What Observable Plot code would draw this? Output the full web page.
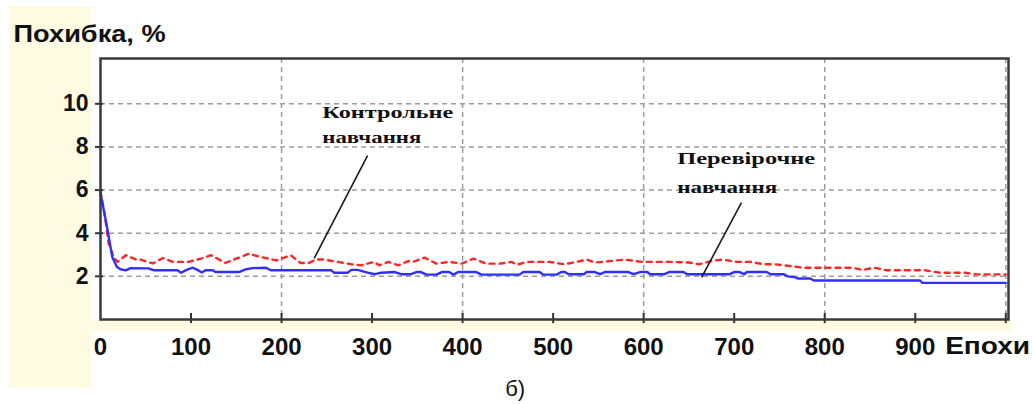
<!DOCTYPE html>
<html>
<head>
<meta charset="utf-8">
<script src="https://cdn.jsdelivr.net/npm/d3@7"></script>
<script src="https://cdn.jsdelivr.net/npm/@observablehq/plot@0.6"></script>
<style>
  html, body { margin: 0; padding: 0; background: #ffffff; }
  #wrap { position: relative; width: 1032px; height: 404px; overflow: hidden; }
  .pale { position: absolute; background: #fffbe3; }
  #chart { position: absolute; left: 0; top: 0; }
</style>
</head>
<body>
<div id="wrap">
  <div class="pale" style="left:9px;top:6px;width:82px;height:382px;"></div>
  <div class="pale" style="left:91px;top:320px;width:920px;height:11px;"></div>
  <div id="chart"></div>
</div>
<script>
// ---- data ----
const blueEpochs = [0,4,8,13,18,22,28,33,53,59,85,89,95,102,107,112,116,124,127,153,161,168,183,188,255,258,273,277,284,295,303,310,325,332,343,349,354,360,371,377,385,390,395,415,421,463,467,485,489,504,509,513,517,534,537,546,552,557,583,589,596,604,607,623,628,644,648,695,700,706,711,714,736,740,755,759,766,770,784,788,905,908,1000];
const blueValues = [5.85,5.0,4.1,2.9,2.45,2.33,2.28,2.38,2.37,2.28,2.28,2.17,2.3,2.4,2.3,2.18,2.28,2.28,2.2,2.2,2.33,2.38,2.4,2.28,2.28,2.17,2.17,2.3,2.3,2.17,2.1,2.17,2.2,2.1,2.1,2.2,2.2,2.08,2.08,2.2,2.2,2.08,2.2,2.2,2.08,2.08,2.2,2.2,2.08,2.08,2.2,2.2,2.1,2.1,2.2,2.2,2.1,2.2,2.2,2.1,2.2,2.2,2.1,2.1,2.2,2.2,2.1,2.1,2.2,2.2,2.1,2.2,2.2,2.1,2.1,2.0,1.97,1.9,1.9,1.81,1.81,1.7,1.7];

const redEpochs = [0,5,9,15,19,28,39,44,52,58,69,80,97,111,122,138,150,164,174,194,203,210,221,230,238,247,262,277,288,302,308,318,329,340,345,358,371,385,399,412,426,441,454,460,471,496,512,526,537,546,561,579,598,631,650,661,675,687,703,718,733,745,761,777,830,842,855,869,911,927,955,967,1000];
const redValues = [5.95,4.76,3.53,2.84,2.67,2.98,2.78,2.78,2.67,2.6,2.85,2.67,2.67,2.82,2.98,2.62,2.82,3.05,2.93,2.74,2.87,2.98,2.62,2.62,2.78,2.78,2.67,2.56,2.51,2.67,2.51,2.67,2.51,2.71,2.67,2.87,2.59,2.67,2.59,2.82,2.59,2.59,2.67,2.54,2.67,2.67,2.56,2.67,2.78,2.64,2.7,2.78,2.67,2.67,2.64,2.56,2.71,2.78,2.67,2.67,2.56,2.56,2.48,2.4,2.4,2.3,2.4,2.28,2.28,2.17,2.17,2.09,2.09];

const xTickLabels = [0,100,200,300,400,500,600,700,800,900];
const xTickMarks = [100,200,300,400,500,600,700,800,900,1000];
const xGridLines = [200,400,600,800,1000];
const yTicks = [2,4,6,8,10];

const yTitle = "Похибка, %";
const xTitle = "Епохи";
const caption = "б)";

const annText = ["Контрольне", "навчання", "Перевірочне", "навчання"];
const annX = [245, 245, 637, 637];
const annY = [9.92, 8.72, 7.79, 6.44];
const annLen = [131, 99, 138, 100];

const leadX1 = [295, 708];
const leadY1 = [7.6, 5.42];
const leadX2 = [236, 664];
const leadY2 = [2.83, 1.95];

// ---- tables ----
const blue = blueEpochs.map((e, i) => ({e, v: blueValues[i]}));
const red = redEpochs.map((e, i) => ({e, v: redValues[i]}));
const ann = annText.map((t, i) => ({t, x: annX[i], y: annY[i], len: annLen[i]}));
const leaders = leadX1.map((x, i) => ({x1: x, y1: leadY1[i], x2: leadX2[i], y2: leadY2[i]}));

const sans = "'Liberation Sans', Arial, Helvetica, sans-serif";
const serif = "'Liberation Serif', 'Times New Roman', serif";
const gridStyle = {stroke: "#9c9c9c", strokeOpacity: 1, strokeWidth: 1.5, strokeDasharray: "5,4"};

const plot = Plot.plot({
  width: 1032,
  height: 404,
  marginLeft: 100,
  marginRight: 24,
  marginTop: 58,
  marginBottom: 85,
  x: {domain: [0, 1003]},
  y: {domain: [0, 12.1]},
  style: {background: "transparent", fontFamily: sans, color: "#111", overflow: "visible"},
  marks: [
    Plot.frame({fill: "white", stroke: null}),
    Plot.gridY(yTicks, gridStyle),
    Plot.gridX(xGridLines, gridStyle),
    Plot.axisY(yTicks, {tickSize: 0, tickPadding: 12, fontSize: 23, fontWeight: "bold", label: null, fill: "#111"}),
    Plot.axisX(xTickLabels, {tickSize: 0, tickPadding: 18, fontSize: 24, fontWeight: "bold", label: null, fill: "#111"}),
    Plot.ruleX(xTickMarks, {x: d => d, y1: -0.19, y2: 0.28, stroke: "#333", strokeWidth: 2}),
    Plot.ruleY(yTicks, {y: d => d, x1: -5.5, x2: 3.3, stroke: "#333", strokeWidth: 2}),
    Plot.line(red, {x: "e", y: "v", stroke: "#ff2626", strokeWidth: 2.4, strokeDasharray: "5,5"}),
    Plot.line(blue, {x: "e", y: "v", stroke: "#2f2fff", strokeWidth: 2.4}),
    Plot.frame({stroke: "#3a3a3a", strokeWidth: 2.5}),
    Plot.link(leaders, {x1: "x1", y1: "y1", x2: "x2", y2: "y2", stroke: "#1a1a1a", strokeWidth: 1.6}),
    Plot.text(ann, {x: "x", y: "y", text: "t", textAnchor: "start", lineAnchor: "top",
      fontFamily: serif, fontWeight: "bold", fontSize: 17, fill: "#111"}),
    Plot.text([xTitle], {x: 933, y: -0.83, text: d => d, textAnchor: "start", lineAnchor: "top",
      fontSize: 24, fontWeight: "bold", fill: "#111"}),
    Plot.text([yTitle], {x: -96, y: 13.63, text: d => d, textAnchor: "start", lineAnchor: "top",
      fontSize: 23, fontWeight: "bold", fill: "#111"}),
    Plot.text([caption], {x: 458, y: -2.83, text: d => d, textAnchor: "middle", lineAnchor: "top",
      fontSize: 22, fill: "#111"})
  ]
});

// stretch a few labels to the widths seen in the picture
const lengths = {};
ann.forEach(a => { (lengths[a.t] = lengths[a.t] || []).push(a.len); });
lengths[yTitle] = [152];
lengths[xTitle] = [85];
const used = {};
d3.select(plot).selectAll("text").each(function () {
  const t = this.textContent;
  if (lengths[t]) {
    const k = used[t] || 0;
    const L = lengths[t][Math.min(k, lengths[t].length - 1)];
    used[t] = k + 1;
    this.setAttribute("textLength", L);
    this.setAttribute("lengthAdjust", "spacingAndGlyphs");
  }
});

document.getElementById("chart").appendChild(plot);
</script>
</body>
</html>
